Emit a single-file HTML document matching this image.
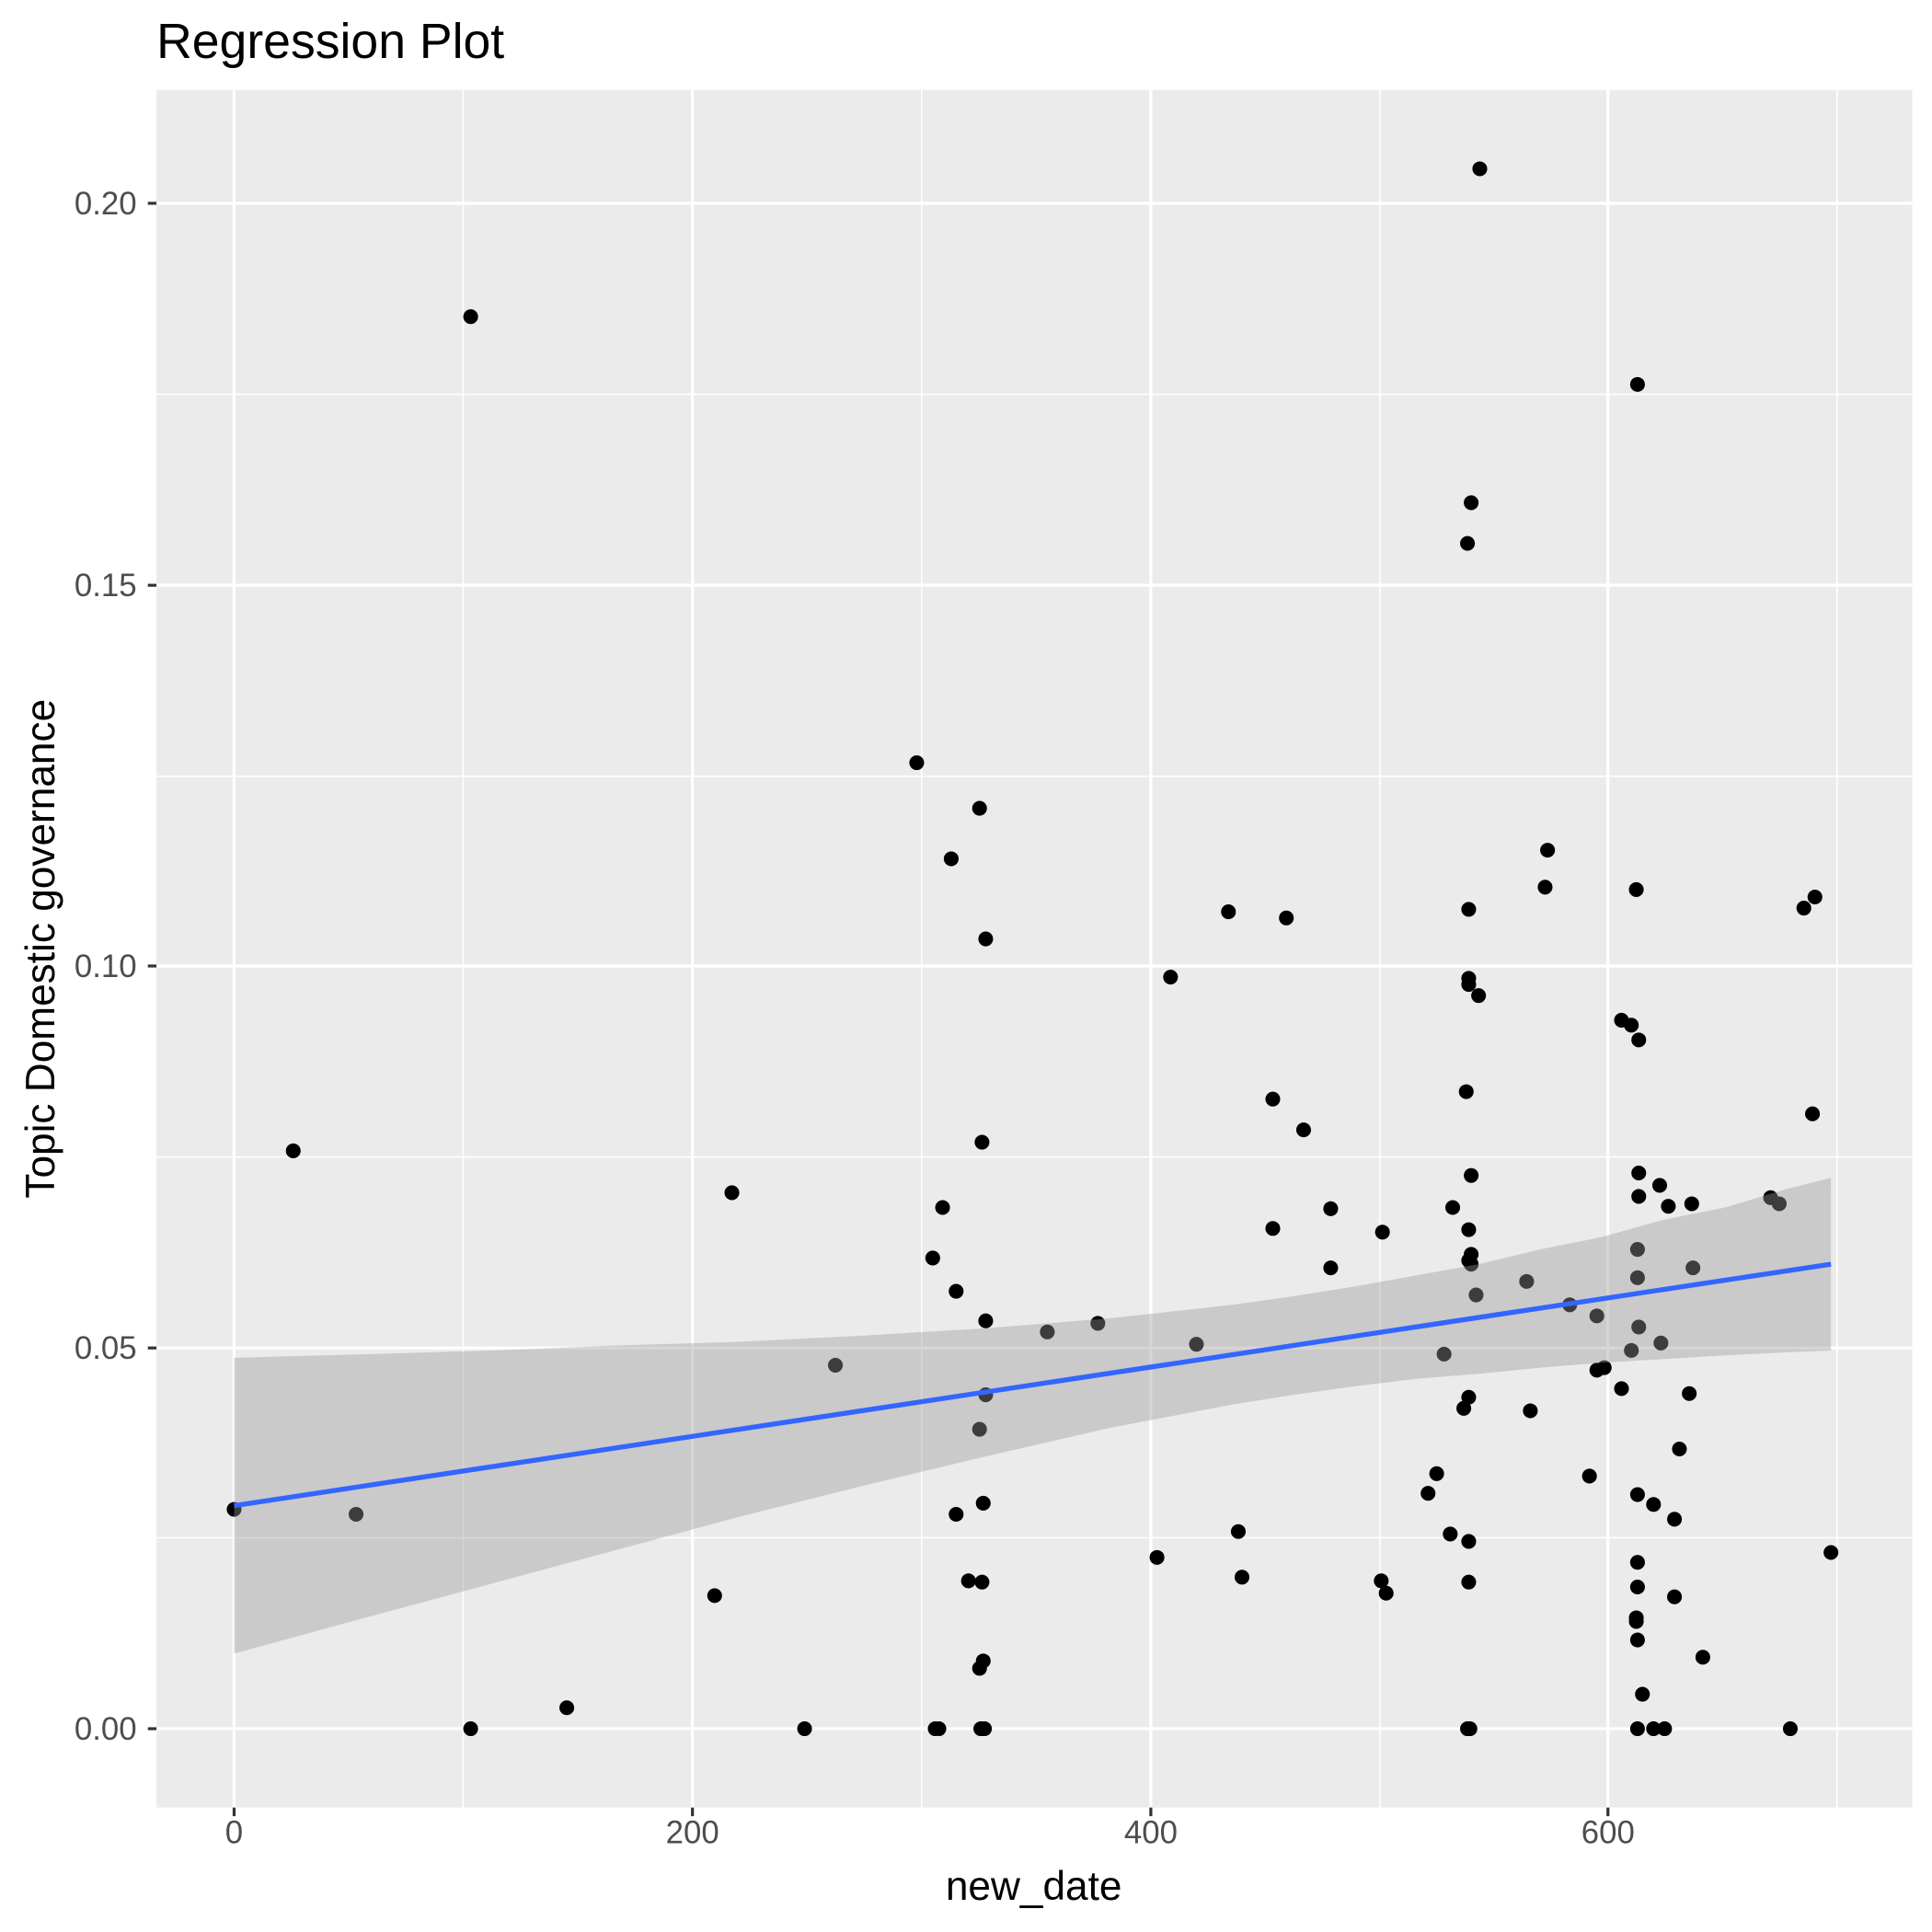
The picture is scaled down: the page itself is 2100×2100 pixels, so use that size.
<!DOCTYPE html>
<html><head><meta charset="utf-8"><style>html,body{margin:0;padding:0;background:#fff}svg{display:block}</style></head>
<body>
<svg width="2100" height="2100" viewBox="0 0 1568 1568" xmlns="http://www.w3.org/2000/svg" font-family="Liberation Sans, Arial, sans-serif">
<rect width="1568" height="1568" fill="#fff"/>
<rect x="127" y="73" width="1425" height="1394" fill="#EBEBEB"/>
<g stroke="#fff" stroke-width="1.2">
<line x1="376" y1="73" x2="376" y2="1467"/><line x1="748" y1="73" x2="748" y2="1467"/><line x1="1120" y1="73" x2="1120" y2="1467"/><line x1="1491" y1="73" x2="1491" y2="1467"/>
<line x1="127" y1="1248" x2="1552" y2="1248"/><line x1="127" y1="939" x2="1552" y2="939"/><line x1="127" y1="630" x2="1552" y2="630"/><line x1="127" y1="320" x2="1552" y2="320"/>
</g>
<g stroke="#fff" stroke-width="2.4">
<line x1="190" y1="73" x2="190" y2="1467"/><line x1="562" y1="73" x2="562" y2="1467"/><line x1="934" y1="73" x2="934" y2="1467"/><line x1="1305" y1="73" x2="1305" y2="1467"/>
<line x1="127" y1="1403" x2="1552" y2="1403"/><line x1="127" y1="1094" x2="1552" y2="1094"/><line x1="127" y1="784" x2="1552" y2="784"/><line x1="127" y1="475" x2="1552" y2="475"/><line x1="127" y1="165" x2="1552" y2="165"/>
</g>
<g fill="#000">
<circle cx="190" cy="1225" r="6"/><circle cx="238" cy="934" r="6"/><circle cx="289" cy="1229" r="6"/><circle cx="382" cy="257" r="6"/><circle cx="382" cy="1403" r="6"/><circle cx="460" cy="1386" r="6"/><circle cx="580" cy="1295" r="6"/><circle cx="594" cy="968" r="6"/><circle cx="653" cy="1403" r="6"/><circle cx="678" cy="1108" r="6"/><circle cx="744" cy="619" r="6"/><circle cx="757" cy="1021" r="6"/><circle cx="759" cy="1403" r="6"/><circle cx="762" cy="1403" r="6"/><circle cx="765" cy="980" r="6"/><circle cx="772" cy="697" r="6"/><circle cx="776" cy="1229" r="6"/><circle cx="776" cy="1048" r="6"/><circle cx="786" cy="1283" r="6"/><circle cx="795" cy="656" r="6"/><circle cx="795" cy="1160" r="6"/><circle cx="795" cy="1354" r="6"/><circle cx="796" cy="1403" r="6"/><circle cx="797" cy="927" r="6"/><circle cx="797" cy="1284" r="6"/><circle cx="798" cy="1220" r="6"/><circle cx="798" cy="1348" r="6"/><circle cx="799" cy="1403" r="6"/><circle cx="800" cy="762" r="6"/><circle cx="800" cy="1072" r="6"/><circle cx="800" cy="1132" r="6"/><circle cx="850" cy="1081" r="6"/><circle cx="891" cy="1074" r="6"/><circle cx="939" cy="1264" r="6"/><circle cx="950" cy="793" r="6"/><circle cx="971" cy="1091" r="6"/><circle cx="997" cy="740" r="6"/><circle cx="1005" cy="1243" r="6"/><circle cx="1008" cy="1280" r="6"/><circle cx="1033" cy="892" r="6"/><circle cx="1033" cy="997" r="6"/><circle cx="1044" cy="745" r="6"/><circle cx="1058" cy="917" r="6"/><circle cx="1080" cy="981" r="6"/><circle cx="1080" cy="1029" r="6"/><circle cx="1121" cy="1283" r="6"/><circle cx="1122" cy="1000" r="6"/><circle cx="1125" cy="1293" r="6"/><circle cx="1159" cy="1212" r="6"/><circle cx="1166" cy="1196" r="6"/><circle cx="1172" cy="1099" r="6"/><circle cx="1177" cy="1245" r="6"/><circle cx="1179" cy="980" r="6"/><circle cx="1188" cy="1143" r="6"/><circle cx="1190" cy="886" r="6"/><circle cx="1191" cy="441" r="6"/><circle cx="1191" cy="1403" r="6"/><circle cx="1192" cy="1023" r="6"/><circle cx="1192" cy="1134" r="6"/><circle cx="1192" cy="1251" r="6"/><circle cx="1192" cy="1284" r="6"/><circle cx="1192" cy="998" r="6"/><circle cx="1192" cy="738" r="6"/><circle cx="1192" cy="794" r="6"/><circle cx="1192" cy="799" r="6"/><circle cx="1193" cy="1403" r="6"/><circle cx="1194" cy="408" r="6"/><circle cx="1194" cy="1018" r="6"/><circle cx="1194" cy="1026" r="6"/><circle cx="1194" cy="954" r="6"/><circle cx="1198" cy="1051" r="6"/><circle cx="1200" cy="808" r="6"/><circle cx="1201" cy="137" r="6"/><circle cx="1239" cy="1040" r="6"/><circle cx="1242" cy="1145" r="6"/><circle cx="1254" cy="720" r="6"/><circle cx="1256" cy="690" r="6"/><circle cx="1274" cy="1059" r="6"/><circle cx="1290" cy="1198" r="6"/><circle cx="1296" cy="1068" r="6"/><circle cx="1296" cy="1112" r="6"/><circle cx="1302" cy="1110" r="6"/><circle cx="1316" cy="828" r="6"/><circle cx="1316" cy="1127" r="6"/><circle cx="1324" cy="1096" r="6"/><circle cx="1324" cy="832" r="6"/><circle cx="1328" cy="1316" r="6"/><circle cx="1328" cy="1313" r="6"/><circle cx="1328" cy="722" r="6"/><circle cx="1329" cy="312" r="6"/><circle cx="1329" cy="1014" r="6"/><circle cx="1329" cy="1037" r="6"/><circle cx="1329" cy="1213" r="6"/><circle cx="1329" cy="1268" r="6"/><circle cx="1329" cy="1288" r="6"/><circle cx="1329" cy="1331" r="6"/><circle cx="1329" cy="1403" r="6"/><circle cx="1330" cy="844" r="6"/><circle cx="1330" cy="952" r="6"/><circle cx="1330" cy="971" r="6"/><circle cx="1330" cy="1077" r="6"/><circle cx="1333" cy="1375" r="6"/><circle cx="1342" cy="1221" r="6"/><circle cx="1342" cy="1403" r="6"/><circle cx="1347" cy="962" r="6"/><circle cx="1348" cy="1090" r="6"/><circle cx="1351" cy="1403" r="6"/><circle cx="1354" cy="979" r="6"/><circle cx="1359" cy="1233" r="6"/><circle cx="1359" cy="1296" r="6"/><circle cx="1363" cy="1176" r="6"/><circle cx="1371" cy="1131" r="6"/><circle cx="1373" cy="977" r="6"/><circle cx="1374" cy="1029" r="6"/><circle cx="1382" cy="1345" r="6"/><circle cx="1437" cy="972" r="6"/><circle cx="1444" cy="977" r="6"/><circle cx="1453" cy="1403" r="6"/><circle cx="1464" cy="737" r="6"/><circle cx="1471" cy="904" r="6"/><circle cx="1473" cy="728" r="6"/><circle cx="1486" cy="1260" r="6"/>
</g>
<polygon fill="#999" fill-opacity="0.4" points="190,1102 300,1099 400,1096 500,1092 600,1089 700,1084 800,1078 900,1070 1000,1059 1050,1052 1100,1044 1150,1035 1200,1026 1250,1014 1300,1004 1350,990 1400,980 1450,965 1486,956 1486,1096 1450,1097.5 1400,1100 1350,1103 1300,1106 1250,1110 1200,1115 1150,1119 1100,1125 1050,1132 1000,1140 900,1159 800,1182 700,1206 600,1231 500,1258 400,1285 300,1312 190,1342"/>
<line x1="190" y1="1222" x2="1486" y2="1026" stroke="#3366FF" stroke-width="4"/>
<g stroke="#333" stroke-width="2.4">
<line x1="190" y1="1467" x2="190" y2="1474"/><line x1="562" y1="1467" x2="562" y2="1474"/><line x1="934" y1="1467" x2="934" y2="1474"/><line x1="1305" y1="1467" x2="1305" y2="1474"/>
<line x1="120" y1="1403" x2="127" y2="1403"/><line x1="120" y1="1094" x2="127" y2="1094"/><line x1="120" y1="784" x2="127" y2="784"/><line x1="120" y1="475" x2="127" y2="475"/><line x1="120" y1="165" x2="127" y2="165"/>
</g>
<g fill="#4D4D4D" font-size="26">
<g text-anchor="middle"><text x="190" y="1496">0</text><text x="562" y="1496">200</text><text x="934" y="1496">400</text><text x="1305" y="1496">600</text></g>
<g text-anchor="end"><text x="111" y="1412">0.00</text><text x="111" y="1103">0.05</text><text x="111" y="793">0.10</text><text x="111" y="484">0.15</text><text x="111" y="174">0.20</text></g>
</g>
<text x="839" y="1542" text-anchor="middle" font-size="33">new_date</text>
<text transform="translate(44,770) rotate(-90)" text-anchor="middle" font-size="33">Topic Domestic governance</text>
<text x="127" y="47" font-size="40">Regression Plot</text>
</svg>
</body></html>
